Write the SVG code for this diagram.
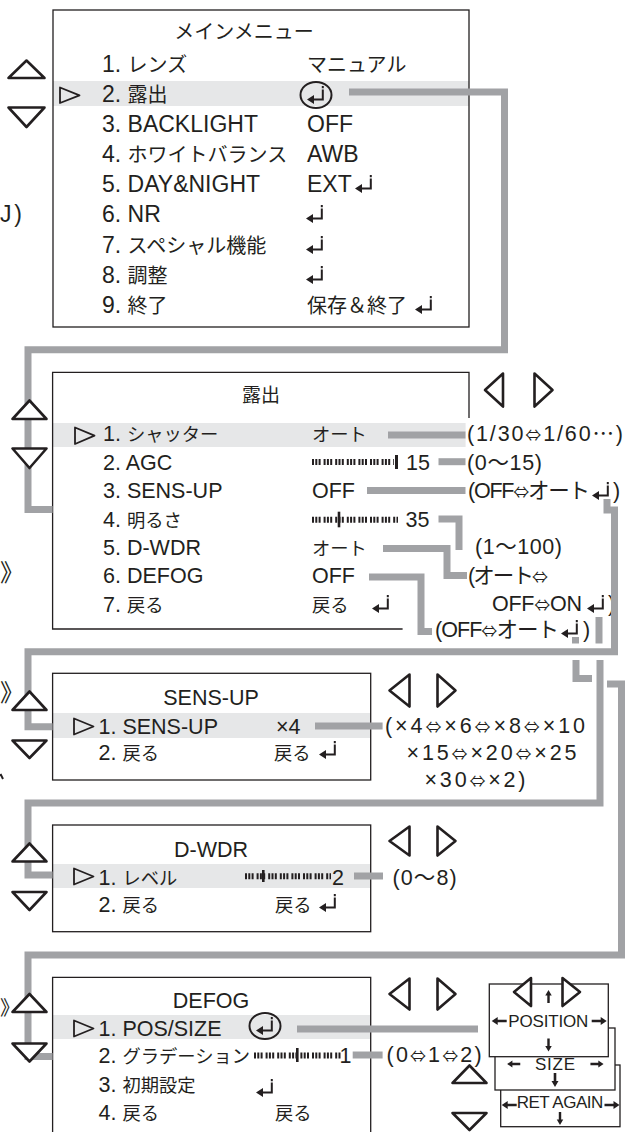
<svg xmlns="http://www.w3.org/2000/svg" width="625" height="1132" viewBox="0 0 625 1132">
<defs>
<style>
.t{font-family:"Liberation Sans","DejaVu Sans","Noto Sans CJK JP",sans-serif;fill:#231f20}
.m{font-size:23px}
.s{font-size:21.5px}
.jm{font-size:20px}
.js{font-size:18.3px}
.k{font-size:17px}
.q{font-family:"Noto Sans CJK JP",sans-serif;font-size:16px}
.e{font-family:"Noto Sans CJK JP",sans-serif}
.f{font-size:24px;font-family:"Noto Sans CJK JP",sans-serif;fill:#231f20}
.box{fill:none;stroke:#231f20;stroke-width:1.3}
.pb{fill:#fff;stroke:#231f20;stroke-width:1.3}
.hl{fill:#e6e7e8}
.cn{fill:none;stroke:#a1a2a5;stroke-width:7}
.nav{fill:#fff;stroke:#231f20;stroke-width:2.6;stroke-linejoin:round}
.mk{fill:none;stroke:#231f20;stroke-width:1.8;stroke-linejoin:round}
.sl{stroke:#231f20;stroke-width:6;stroke-dasharray:2 1.3 2 1.3 2 3}
.bar{fill:#231f20}
.ring{fill:none;stroke:#231f20;stroke-width:2}
</style>
<symbol id="ent" viewBox="0 0 18 18" overflow="visible">
<path fill="#231f20" d="M0,13.5 L7,9 V18 Z M6,12.5 H16.8 V14.6 H6 Z M14.8,3.6 H16.8 V14.6 H14.8 Z M14.8,0 H16.8 V2.2 H14.8 Z"/>
</symbol>
<symbol id="al" viewBox="0 0 15 8" overflow="visible"><path fill="#231f20" d="M0,4 L6,0 V2.7 H15 V5.3 H6 V8 Z"/></symbol>
<symbol id="ar" viewBox="0 0 15 8" overflow="visible"><path fill="#231f20" d="M15,4 L9,0 V2.7 H0 V5.3 H9 V8 Z"/></symbol>
<symbol id="ad" viewBox="0 0 7 14" overflow="visible"><path fill="#231f20" d="M3.5,14 L0,8 H2.2 V0 H4.8 V8 H7 Z"/></symbol>
<symbol id="au" viewBox="0 0 7 14" overflow="visible"><path fill="#231f20" d="M3.5,0 L0,6 H2.2 V14 H4.8 V6 H7 Z"/></symbol>
</defs>
<rect width="625" height="1132" fill="#fff"/>

<g id="edge-fragments">
<text class="t m" x="0" y="222" textLength="22">J)</text>
<text class="f" x="0" y="581">》</text>
<text class="f" x="0" y="701">》</text>
<path d="M0.5,774 L3,779" stroke="#231f20" stroke-width="2"/>
<text class="f" x="0" y="1015" style="font-size:20px">》</text>
</g>

<g id="main-menu">
<rect class="hl" x="53" y="81" width="416" height="25"/>
<rect class="box" x="53" y="10" width="416" height="317"/>
<text class="t jm" x="244" y="39" text-anchor="middle">メインメニュー</text>
<polygon class="mk" points="60,87.5 79.5,95.3 60,103"/>
<text class="t m" x="102" y="72">1. <tspan class="jm">レンズ</tspan></text>
<text class="t jm" x="307" y="72">マニュアル</text>
<text class="t m" x="102" y="102">2. <tspan class="jm">露出</tspan></text>
<ellipse class="ring" cx="316" cy="95" rx="15.5" ry="13"/>
<use href="#ent" x="307" y="86" width="18" height="18"/>
<text class="t m" x="102" y="132">3. BACKLIGHT</text>
<text class="t m" x="307" y="132">OFF</text>
<text class="t m" x="102" y="162">4. <tspan class="jm">ホワイトバランス</tspan></text>
<text class="t m" x="307" y="162">AWB</text>
<text class="t m" x="102" y="192">5. DAY&amp;NIGHT</text>
<text class="t m" x="307" y="192">EXT</text>
<use href="#ent" x="355" y="175" width="18" height="18"/>
<text class="t m" x="102" y="222">6. NR</text>
<use href="#ent" x="306" y="205" width="18" height="18"/>
<text class="t m" x="102" y="253">7. <tspan class="jm">スペシャル機能</tspan></text>
<use href="#ent" x="306" y="236" width="18" height="18"/>
<text class="t m" x="102" y="283">8. <tspan class="jm">調整</tspan></text>
<use href="#ent" x="306" y="266" width="18" height="18"/>
<text class="t m" x="102" y="313">9. <tspan class="jm">終了</tspan></text>
<text class="t jm" x="307" y="313">保存＆終了</text>
<use href="#ent" x="415" y="296" width="18" height="18"/>
</g>

<g id="exposure">
<rect class="hl" x="52.6" y="423" width="413" height="24"/>
<path class="box" d="M469,418 V372.3 H52.6 V629 H402.6"/>
<text class="t" style="font-size:19px" x="261" y="402" text-anchor="middle">露出</text>
<polygon class="mk" points="75,427.5 94.5,435.7 75,444"/>
<text class="t s" x="103" y="441">1. <tspan class="js">シャッター</tspan></text>
<text class="t js" x="312" y="441">オート</text>
<text class="t s" x="103" y="470">2. AGC</text>
<line class="sl" x1="312" y1="462" x2="394" y2="462"/>
<rect class="bar" x="395" y="455" width="3" height="14"/>
<text class="t s" x="406" y="470">15</text>
<text class="t s" x="103" y="498">3. SENS-UP</text>
<text class="t s" x="312" y="498">OFF</text>
<text class="t s" x="103" y="527">4. <tspan class="js">明るさ</tspan></text>
<line class="sl" x1="312" y1="519.7" x2="398" y2="519.7"/>
<rect class="bar" x="337.7" y="511.7" width="2.6" height="15.6"/>
<text class="t s" x="405.5" y="527">35</text>
<text class="t s" x="103" y="555">5. D-WDR</text>
<text class="t js" x="312" y="555">オート</text>
<text class="t s" x="103" y="583">6. DEFOG</text>
<text class="t s" x="312" y="583">OFF</text>
<text class="t s" x="103" y="612">7. <tspan class="js">戻る</tspan></text>
<text class="t js" x="312" y="612">戻る</text>
<use href="#ent" x="372" y="595" width="18" height="18"/>
<text class="t s" x="467" y="441" textLength="156">(1/30<tspan class="q">⇔</tspan>1/60<tspan class="e">…</tspan>)</text>
<text class="t s" x="467" y="470" textLength="75">(0〜15)</text>
<text class="t s" x="468" y="498" textLength="122">(OFF<tspan class="q">⇔</tspan>オート</text>
<use href="#ent" x="592" y="482" width="18" height="18"/>
<text class="t s" x="613" y="498">)</text>
<text class="t s" x="475" y="554" textLength="87">(1〜100)</text>
<text class="t s" x="468" y="583" textLength="80">(オート<tspan class="q">⇔</tspan></text>
<text class="t s" x="492" y="611" textLength="90">OFF<tspan class="q">⇔</tspan>ON</text>
<use href="#ent" x="587" y="595" width="18" height="18"/>
<text class="t s" x="608" y="611">)</text>
<text class="t s" x="435" y="637" textLength="124">(OFF<tspan class="q">⇔</tspan>オート</text>
<use href="#ent" x="561" y="620" width="18" height="18"/>
<text class="t s" x="583" y="637">)</text>
</g>

<g id="sens-up">
<rect class="hl" x="52.6" y="713" width="318.1" height="25"/>
<rect class="box" x="52.6" y="673.3" width="318.1" height="106.7"/>
<text class="t s" x="211" y="705" text-anchor="middle">SENS-UP</text>
<polygon class="mk" points="74,718.5 93.5,726.5 74,734.5"/>
<text class="t s" x="98.5" y="734">1. SENS-UP</text>
<text class="t s" x="276" y="734">×4</text>
<text class="t s" x="98.5" y="760">2. <tspan class="js">戻る</tspan></text>
<text class="t js" x="274" y="760">戻る</text>
<use href="#ent" x="319" y="741" width="18" height="18"/>
<text class="t s" x="385" y="733" textLength="200">(×4<tspan class="q">⇔</tspan>×6<tspan class="q">⇔</tspan>×8<tspan class="q">⇔</tspan>×10</text>
<text class="t s" x="406.5" y="760" textLength="170">×15<tspan class="q">⇔</tspan>×20<tspan class="q">⇔</tspan>×25</text>
<text class="t s" x="424.5" y="787" textLength="101">×30<tspan class="q">⇔</tspan>×2)</text>
</g>

<g id="d-wdr">
<rect class="hl" x="52.6" y="864" width="318.1" height="24"/>
<rect class="box" x="52.6" y="825" width="318.1" height="106.7"/>
<text class="t s" x="211" y="857" text-anchor="middle">D-WDR</text>
<polygon class="mk" points="74,868.5 93.5,876.5 74,884.5"/>
<text class="t s" x="98.5" y="885">1. <tspan class="js">レベル</tspan></text>
<line class="sl" x1="245" y1="876.3" x2="331" y2="876.3"/>
<rect class="bar" x="262" y="870" width="2.6" height="12"/>
<text class="t s" x="332" y="885">2</text>
<text class="t s" x="392.6" y="885" textLength="64">(0〜8)</text>
<text class="t s" x="98.5" y="912">2. <tspan class="js">戻る</tspan></text>
<text class="t js" x="275" y="912">戻る</text>
<use href="#ent" x="319" y="894" width="18" height="18"/>
</g>

<g id="defog">
<rect class="hl" x="52.6" y="1015" width="318.1" height="24"/>
<path class="box" d="M52.6,1133 V977.3 H370.7 V1133"/>
<text class="t s" x="211" y="1008" text-anchor="middle">DEFOG</text>
<polygon class="mk" points="74,1020.5 93.5,1028.5 74,1036.5"/>
<text class="t s" x="98.5" y="1036">1. POS/SIZE</text>
<ellipse class="ring" cx="265" cy="1026" rx="15.5" ry="13"/>
<use href="#ent" x="256" y="1017" width="18" height="18"/>
<text class="t s" x="98.5" y="1063">2. <tspan class="js">グラデーション</tspan></text>
<line class="sl" x1="254" y1="1055.5" x2="341" y2="1055.5"/>
<rect class="bar" x="296" y="1048" width="2.6" height="14"/>
<text class="t s" x="339.5" y="1063">1</text>
<text class="t s" x="386.6" y="1062" textLength="95">(0<tspan class="q">⇔</tspan>1<tspan class="q">⇔</tspan>2)</text>
<text class="t s" x="98.5" y="1092">3. <tspan class="js">初期設定</tspan></text>
<use href="#ent" x="256" y="1079" width="18" height="18"/>
<text class="t s" x="98.5" y="1120">4. <tspan class="js">戻る</tspan></text>
<text class="t js" x="275" y="1120">戻る</text>
</g>

<g id="pos-size">
<rect class="pb" x="500.7" y="1065" width="119.3" height="61.7"/>
<text class="t k" x="516.7" y="1108.3" textLength="86.6">RET AGAIN</text>
<use href="#al" x="501.7" y="1101" width="15" height="8"/>
<use href="#ar" x="604.5" y="1101" width="15" height="8"/>
<use href="#ad" x="556.5" y="1112" width="7" height="13"/>
<rect class="pb" x="495" y="1028" width="120" height="62"/>
<text class="t k" x="535" y="1070" textLength="40">SIZE</text>
<use href="#al" x="506.7" y="1060.5" width="14" height="7"/>
<use href="#ar" x="590" y="1060.5" width="14" height="7"/>
<use href="#ad" x="551.5" y="1073" width="7" height="14"/>
<rect class="pb" x="489.3" y="984" width="119" height="72.7"/>
<polygon class="nav" points="531,978 514,992 531,1006"/>
<polygon class="nav" points="562.5,978 580,992 562.5,1006"/>
<use href="#au" x="545" y="990" width="7" height="13"/>
<text class="t k" x="508.3" y="1026.7" textLength="80">POSITION</text>
<use href="#al" x="491.7" y="1017" width="15" height="8"/>
<use href="#ar" x="591.7" y="1017" width="15" height="8"/>
<use href="#ad" x="545" y="1038.5" width="7" height="13"/>
</g>

<g id="connectors">
<path class="cn" d="M349,92 H504.5 V349.7 H28 V509.5 H52.6"/>
<path class="cn" d="M388,435 H465.5"/>
<path class="cn" d="M438.5,461.7 H465.5"/>
<path class="cn" d="M367,490.5 H465.5"/>
<path class="cn" d="M438.5,519 H459 V550"/>
<path class="cn" d="M383,548.5 H447 V575.5 H467"/>
<path class="cn" d="M369,577 H421 V631.5 H432"/>
<path class="cn" d="M607,499 V510 H614.5 V651.7 H28 V726.7 H52.6"/>
<path class="cn" d="M599,617 V643.5"/>
<path class="cn" d="M600,660 V803 H28 V875 H52.6"/>
<path class="cn" d="M575.5,637 V643.5"/>
<path class="cn" d="M576,660 V678.5 H592"/>
<path class="cn" d="M607,684 H621.5 V955 H28 V1056.5 H52.6"/>
<path class="cn" d="M315,726 H382.6"/>
<path class="cn" d="M354,876 H383"/>
<path class="cn" d="M297,1029 H478"/>
<path class="cn" d="M352.7,1055 H382.6"/>
</g>

<g id="nav-buttons">
<polygon class="nav" points="8.5,78 26.5,60.5 44.5,78"/>
<polygon class="nav" points="8.5,107.5 44.5,107.5 26.5,127"/>
<polygon class="nav" points="12.5,419 29.5,400.5 46.5,419"/>
<polygon class="nav" points="12.5,448.5 46.5,448.5 29.5,468"/>
<polygon class="nav" points="503,373.5 485,390 503,406.5"/>
<polygon class="nav" points="534.5,373.5 552.5,390 534.5,406.5"/>
<polygon class="nav" points="12.5,710 29.5,691.5 46.5,710"/>
<polygon class="nav" points="12.5,740.5 46.5,740.5 29.5,758"/>
<polygon class="nav" points="409.5,674.5 389.5,690.5 409.5,706.5"/>
<polygon class="nav" points="437.5,674.5 455.5,690.5 437.5,706.5"/>
<polygon class="nav" points="12.5,861.5 29.5,843.5 46.5,861.5"/>
<polygon class="nav" points="12.5,892 46.5,892 29.5,910"/>
<polygon class="nav" points="409.5,826.5 389.5,841 409.5,855.5"/>
<polygon class="nav" points="437.5,826.5 455.5,841 437.5,855.5"/>
<polygon class="nav" points="12.5,1012 29.5,994 46.5,1012"/>
<polygon class="nav" points="12.5,1043.5 46.5,1043.5 29.5,1061.5"/>
<polygon class="nav" points="409.5,978.5 389.5,994 409.5,1009.5"/>
<polygon class="nav" points="437.5,978.5 455.5,994 437.5,1009.5"/>
<polygon class="nav" points="452.5,1083 469.5,1065.5 486.5,1083"/>
<polygon class="nav" points="452.5,1113 486.5,1113 469.5,1130"/>
</g>
</svg>
